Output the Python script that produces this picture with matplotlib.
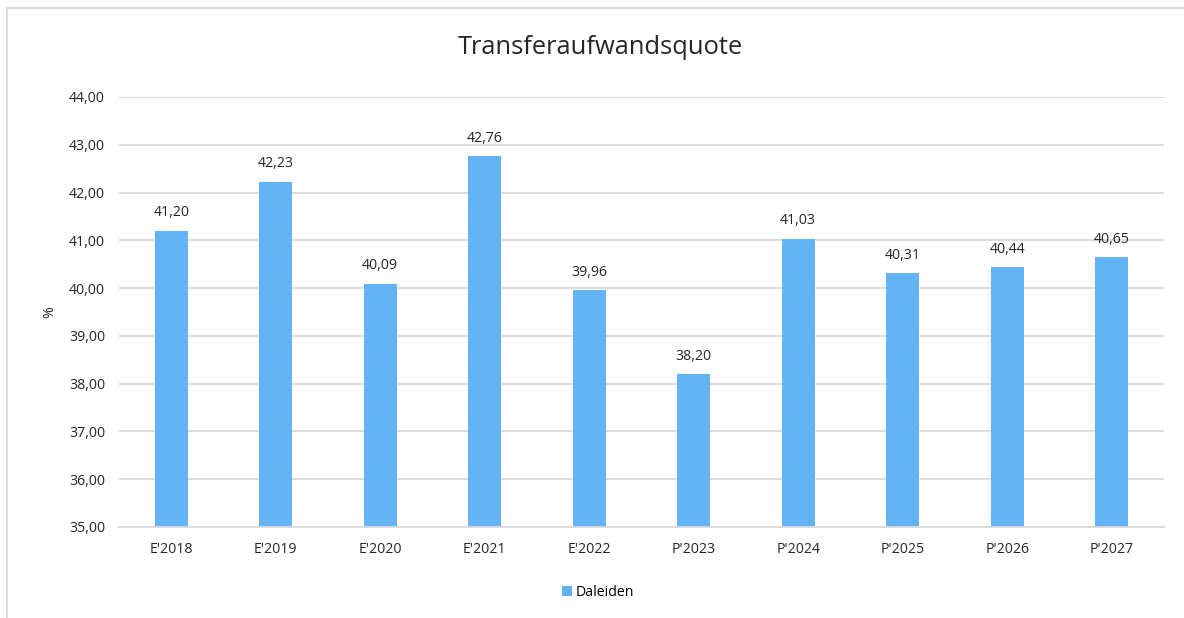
import matplotlib.pyplot as plt
from matplotlib.patches import Rectangle

categories = ["E'2018", "E'2019", "E'2020", "E'2021", "E'2022",
              "P'2023", "P'2024", "P'2025", "P'2026", "P'2027"]
values = [41.20, 42.23, 40.09, 42.76, 39.96, 38.20, 41.03, 40.31, 40.44, 40.65]
yticks = [35, 36, 37, 38, 39, 40, 41, 42, 43, 44]

plt.rcParams["font.family"] = ["Open Sans", "DejaVu Sans"]
BAR = "#63b3f5"
GRID = "#d9d9d9"
TXT = "#262626"

fig = plt.figure(figsize=(11.84, 6.18), dpi=100)
ax = fig.add_axes([119 / 1184, 1 - 527 / 618, 1045 / 1184, 430 / 618])

x = range(len(categories))
bars = ax.bar(x, values, width=0.32, color=BAR, zorder=2, label="Daleiden")
for xi, v in zip(x, values):
    ax.text(xi, v + 0.22, f"{v:.2f}".replace(".", ","), ha="center", va="bottom",
            fontsize=10.2, color=TXT)

ax.set_xlim(-0.5, len(categories) - 0.5)
ax.set_ylim(35, 44)
ax.set_yticks(yticks)
ax.set_yticklabels([f"{t:.2f}".replace(".", ",") for t in yticks])
ax.set_xticks(list(x))
ax.set_xticklabels(categories)
ax.tick_params(length=0, labelsize=10.2, colors=TXT)
ax.tick_params(axis="y", pad=10)
ax.tick_params(axis="x", pad=11)
ax.grid(axis="y", color=GRID, lw=1.3, zorder=0)
for s in ["top", "right", "left"]:
    ax.spines[s].set_visible(False)
ax.spines["bottom"].set_color(GRID)
ax.spines["bottom"].set_linewidth(1.3)
ax.set_ylabel("%", fontsize=10.2, color=TXT)
ax.yaxis.set_label_coords(-0.059, 0.5)

fig.text(600 / 1184, 1 - 47 / 618, "Transferaufwandsquote", ha="center", va="center",
         fontsize=18.4, color=TXT)
fig.legend(handles=[bars], labels=["Daleiden"], loc="center",
           bbox_to_anchor=(598 / 1184, 1 - 592 / 618), frameon=False,
           fontsize=10.2, handlelength=0.7, handleheight=0.7, handletextpad=0.3)

fig.patches.append(Rectangle((7 / 1184, -0.1), 1.2, 1 - 8 / 618 + 0.1,
                             transform=fig.transFigure, fill=False,
                             edgecolor="#d9d9d9", lw=1.3))

fig.savefig("out.png", dpi=100)
